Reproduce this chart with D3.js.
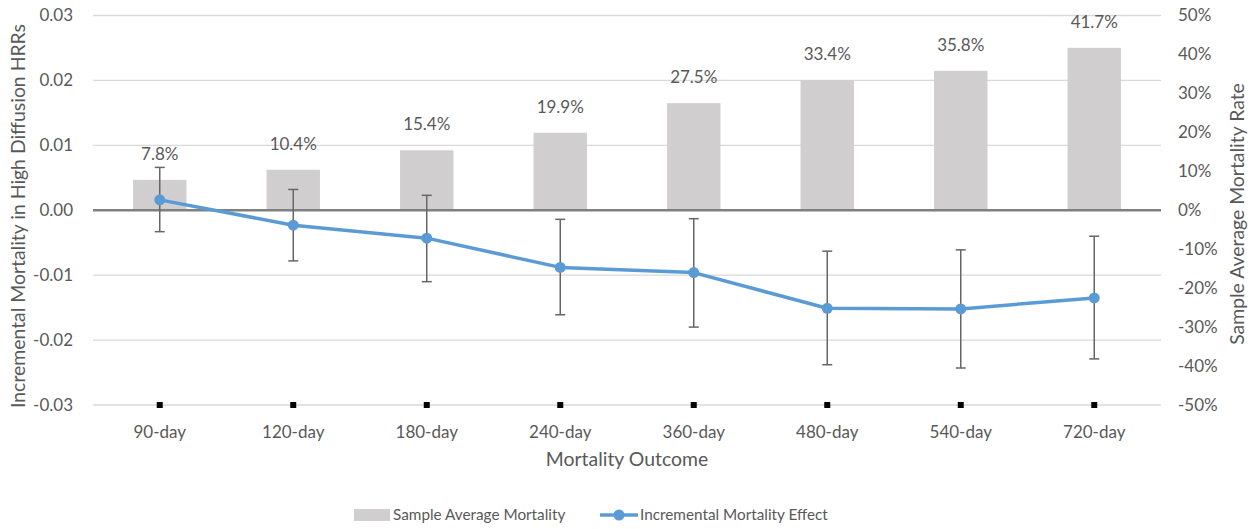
<!DOCTYPE html>
<html>
<head>
<meta charset="utf-8">
<script src="https://cdn.jsdelivr.net/npm/d3@7"></script>
<style>
  html, body { margin: 0; padding: 0; background: #fff; }
  svg text { font-family: Lato, "Open Sans", sans-serif; fill: #595959; }
</style>
</head>
<body>
<svg id="chart" width="1253" height="529"></svg>
<script>
// Outcome windows
const categories = ["90-day", "120-day", "180-day", "240-day", "360-day", "480-day", "540-day", "720-day"];
// Sample average mortality rate (%), right axis
const avgMortality = [7.8, 10.4, 15.4, 19.9, 27.5, 33.4, 35.8, 41.7];
// Incremental mortality effect (left axis) with confidence bounds
const effect = [0.0016, -0.0023, -0.0043, -0.0088, -0.0096, -0.0151, -0.0152, -0.0135];
const effectUpper = [0.0066, 0.0032, 0.0023, -0.0014, -0.0013, -0.0063, -0.0061, -0.0040];
const effectLower = [-0.0033, -0.0078, -0.0110, -0.0161, -0.0180, -0.0238, -0.0243, -0.0229];
// Reference markers placed on the bottom of the left axis
const baseMarker = [-0.03, -0.03, -0.03, -0.03, -0.03, -0.03, -0.03, -0.03];
// Axis ticks
const leftTicks = [0.03, 0.02, 0.01, 0.00, -0.01, -0.02, -0.03];
const rightTicks = [50, 40, 30, 20, 10, 0, -10, -20, -30, -40, -50];

const svg = d3.select("#chart");
const plot = { left: 93, right: 1161, top: 15.5, bottom: 405 };

const x = d3.scaleBand().domain(categories).range([plot.left, plot.right]).paddingInner(0.6).paddingOuter(0.3);
const yL = d3.scaleLinear().domain([-0.03, 0.03]).range([plot.bottom, plot.top]);
const yR = d3.scaleLinear().domain([-50, 50]).range([plot.bottom, plot.top]);
const cx = c => x(c) + x.bandwidth() / 2;

// Gridlines
svg.append("g").selectAll("line").data(leftTicks.filter(t => t !== 0)).join("line")
  .attr("x1", plot.left).attr("x2", plot.right)
  .attr("y1", d => yL(d)).attr("y2", d => yL(d))
  .attr("stroke", "#d9d9d9").attr("stroke-width", 1.3);

// Bars
svg.append("g").selectAll("rect").data(categories).join("rect")
  .attr("x", d => x(d))
  .attr("width", x.bandwidth())
  .attr("y", (d, i) => yR(avgMortality[i]))
  .attr("height", (d, i) => yR(0) - yR(avgMortality[i]))
  .attr("fill", "#d0cece");

// Bar value labels
svg.append("g").selectAll("text").data(categories).join("text")
  .attr("x", d => cx(d))
  .attr("y", (d, i) => yR(avgMortality[i]) - 20)
  .attr("text-anchor", "middle")
  .attr("font-size", 17)
  .text((d, i) => avgMortality[i].toFixed(1) + "%");

// Zero line
svg.append("line")
  .attr("x1", plot.left).attr("x2", plot.right)
  .attr("y1", yL(0)).attr("y2", yL(0))
  .attr("stroke", "#808080").attr("stroke-width", 2.5);

// Error bars
const eb = svg.append("g").attr("stroke", "#666").attr("stroke-width", 1.5);
categories.forEach((c, i) => {
  const xc = cx(c);
  eb.append("line").attr("x1", xc).attr("x2", xc).attr("y1", yL(effectUpper[i])).attr("y2", yL(effectLower[i]));
  [effectUpper[i], effectLower[i]].forEach(v => {
    eb.append("line").attr("x1", xc - 5).attr("x2", xc + 5).attr("y1", yL(v)).attr("y2", yL(v));
  });
});

// Effect line
const line = d3.line().x((d, i) => cx(categories[i])).y(d => yL(d));
svg.append("path").datum(effect)
  .attr("d", line).attr("fill", "none")
  .attr("stroke", "#5b9bd5").attr("stroke-width", 3.5).attr("stroke-linejoin", "round");
svg.append("g").selectAll("circle").data(effect).join("circle")
  .attr("cx", (d, i) => cx(categories[i])).attr("cy", d => yL(d))
  .attr("r", 5.5).attr("fill", "#5b9bd5");

// Base markers
svg.append("g").selectAll("rect").data(baseMarker).join("rect")
  .attr("x", (d, i) => cx(categories[i]) - 3).attr("y", d => yL(d) - 3)
  .attr("width", 6).attr("height", 6).attr("fill", "#000");

// Left axis labels
svg.append("g").selectAll("text").data(leftTicks).join("text")
  .attr("x", 73).attr("y", d => yL(d)).attr("dy", "0.35em")
  .attr("text-anchor", "end").attr("font-size", 17)
  .text(d => d3.format(".2f")(d).replace("−", "-"));

// Right axis labels
svg.append("g").selectAll("text").data(rightTicks).join("text")
  .attr("x", 1178).attr("y", d => yR(d)).attr("dy", "0.35em")
  .attr("text-anchor", "start").attr("font-size", 17)
  .text(d => d + "%");

// Category labels
svg.append("g").selectAll("text").data(categories).join("text")
  .attr("x", d => cx(d)).attr("y", 438)
  .attr("text-anchor", "middle").attr("font-size", 17)
  .text(d => d);

// Axis titles
svg.append("text").attr("x", (plot.left + plot.right) / 2).attr("y", 466)
  .attr("text-anchor", "middle").attr("font-size", 19.4).text("Mortality Outcome");
svg.append("text").attr("transform", `translate(25,${216}) rotate(-90)`)
  .attr("text-anchor", "middle").attr("font-size", 19.4).text("Incremental Mortality in High Diffusion HRRs");
svg.append("text").attr("transform", `translate(1244,${214}) rotate(-90)`)
  .attr("text-anchor", "middle").attr("font-size", 19.4).text("Sample Average Mortality Rate");

// Legend
const lg = svg.append("g");
lg.append("rect").attr("x", 354).attr("y", 509).attr("width", 36).attr("height", 12).attr("fill", "#d0cece");
lg.append("text").attr("x", 393).attr("y", 515).attr("dy", "0.35em").attr("font-size", 15.3).text("Sample Average Mortality");
lg.append("line").attr("x1", 600).attr("x2", 638).attr("y1", 515).attr("y2", 515)
  .attr("stroke", "#5b9bd5").attr("stroke-width", 3.5);
lg.append("circle").attr("cx", 619).attr("cy", 515).attr("r", 5.5).attr("fill", "#5b9bd5");
lg.append("text").attr("x", 640).attr("y", 515).attr("dy", "0.35em").attr("font-size", 15.3).text("Incremental Mortality Effect");
</script>
</body>
</html>
